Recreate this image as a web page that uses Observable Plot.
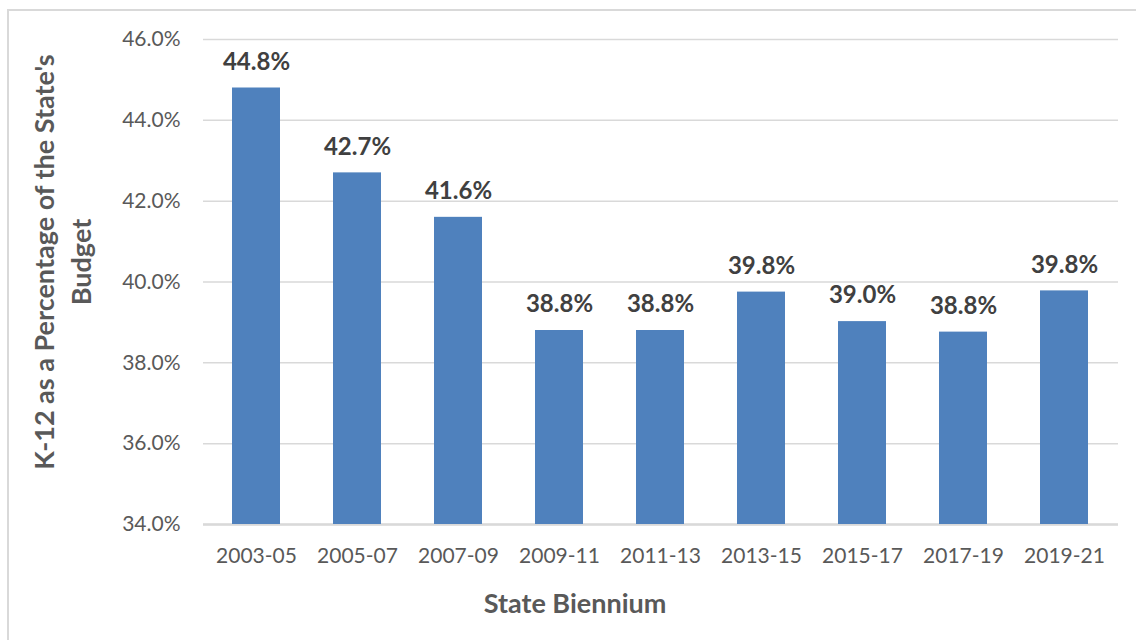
<!DOCTYPE html>
<html>
<head>
<meta charset="utf-8">
<script src="https://cdn.jsdelivr.net/npm/d3@7"></script>
<script src="https://cdn.jsdelivr.net/npm/@observablehq/plot@0.6"></script>
<style>
  html, body { margin: 0; padding: 0; background: #fff; overflow: hidden; }
  #wrap { position: relative; width: 1136px; height: 640px; }
  #frame { position: absolute; left: 7px; top: 9px; width: 1200px; height: 700px; border-left: 2px solid #d9d9d9; border-top: 2px solid #d9d9d9; }
  #chart { position: absolute; left: 0; top: 0; }
</style>
</head>
<body>
<div id="wrap"><div id="frame"></div><div id="chart"></div></div>
<script>
const categories = ["2003-05", "2005-07", "2007-09", "2009-11", "2011-13", "2013-15", "2015-17", "2017-19", "2019-21"];
const values = [44.8, 42.7, 41.6, 38.8, 38.8, 39.75, 39.02, 38.76, 39.78];
const valueLabels = ["44.8%", "42.7%", "41.6%", "38.8%", "38.8%", "39.8%", "39.0%", "38.8%", "39.8%"];
const yTicks = [34, 36, 38, 40, 42, 44, 46];
const xTitle = "State Biennium";
const yTitle1 = "K-12 as a Percentage of the State's";
const yTitle2 = "Budget";

const data = categories.map((c, i) => ({cat: c, value: values[i], label: valueLabels[i]}));

const chart = Plot.plot({
  width: 1136,
  height: 640,
  marginLeft: 203,
  marginRight: 18,
  marginTop: 39,
  marginBottom: 116,
  style: {fontFamily: "Lato, 'Open Sans', sans-serif", background: "transparent", overflow: "visible"},
  x: {domain: categories, paddingInner: 0.52, paddingOuter: 0.26, label: null},
  y: {domain: [34, 46], label: null},
  marks: [
    Plot.ruleY(yTicks, {stroke: "#d9d9d9", strokeWidth: 1.5}),
    Plot.ruleY([34], {stroke: "#d9d9d9", strokeWidth: 2.5}),
    Plot.barY(data, {x: "cat", y1: 34, y2: "value", fill: "#4F81BD"}),
    Plot.text(data, {x: "cat", y: "value", text: "label", dy: -26, fontSize: 24, fontWeight: "bold", fill: "#404040"}),
    Plot.axisY({ticks: yTicks, tickSize: 0, tickPadding: 23, tickFormat: d => d.toFixed(1) + "%", fontSize: 21, color: "#595959", label: null}),
    Plot.axisX({tickSize: 0, tickPadding: 24, fontSize: 21, color: "#595959", label: null}),
    Plot.text([xTitle], {frameAnchor: "bottom", lineAnchor: "middle", dx: -86, dy: 80, fontSize: 27, fontWeight: "bold", fill: "#595959"}),
    Plot.text([yTitle1], {frameAnchor: "left", textAnchor: "middle", rotate: -90, dx: -158, dy: -20, fontSize: 27, fontWeight: "bold", fill: "#595959"}),
    Plot.text([yTitle2], {frameAnchor: "left", textAnchor: "middle", rotate: -90, dx: -121, dy: -20, fontSize: 27, fontWeight: "bold", fill: "#595959"})
  ]
});
document.getElementById("chart").appendChild(chart);
</script>
</body>
</html>
